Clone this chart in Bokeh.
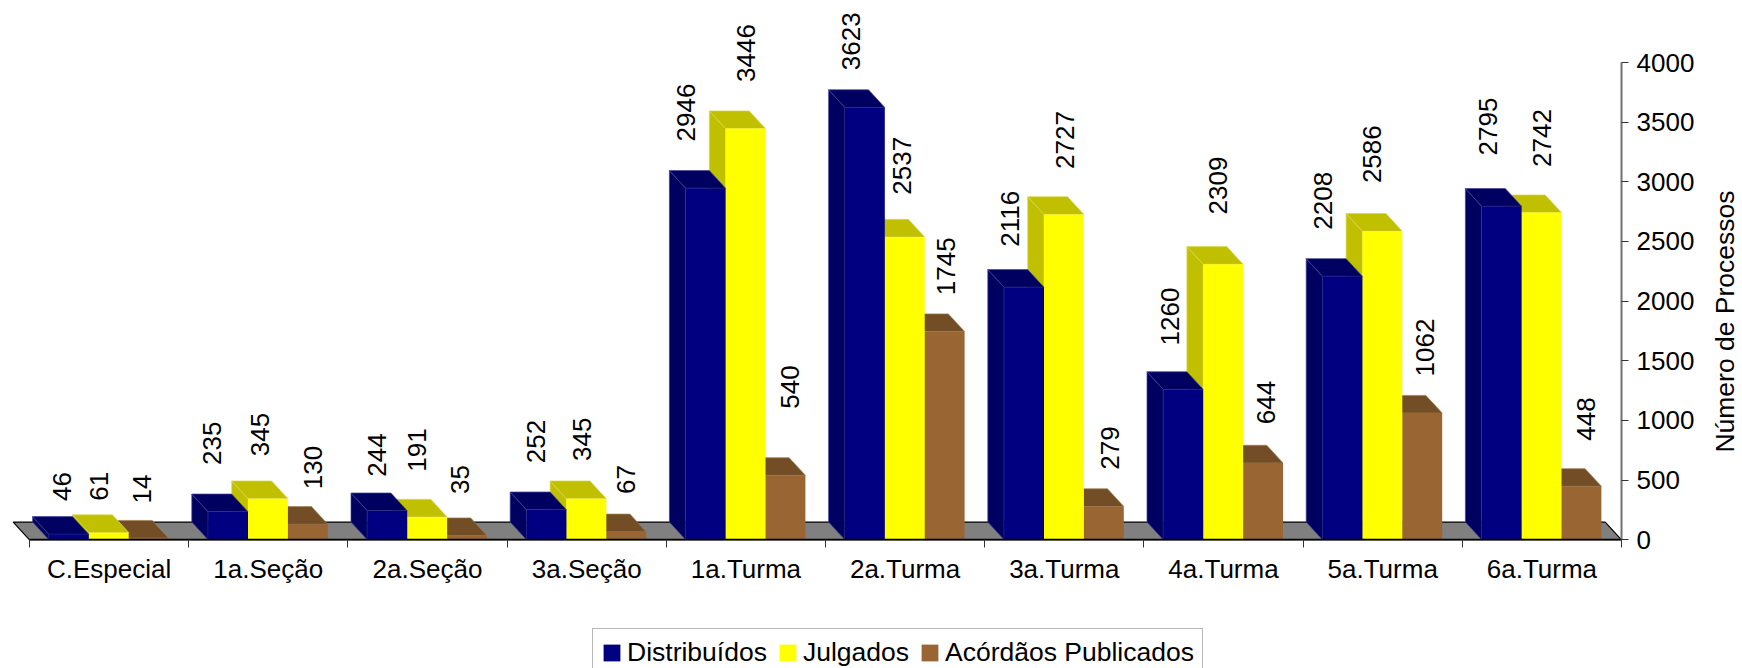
import math
from bokeh.core.properties import value
from bokeh.embed import file_html
from bokeh.models import ColumnDataSource, FixedTicker, Label, Legend, LegendItem, Range1d
from bokeh.plotting import figure
from bokeh.resources import INLINE

categories = ["C.Especial", "1a.Seção", "2a.Seção", "3a.Seção", "1a.Turma",
              "2a.Turma", "3a.Turma", "4a.Turma", "5a.Turma", "6a.Turma"]
distribuidos = [46, 235, 244, 252, 2946, 3623, 2116, 1260, 2208, 2795]
julgados = [61, 345, 191, 345, 3446, 2537, 2727, 2309, 2586, 2742]
acordaos = [14, 130, 35, 67, 540, 1745, 279, 644, 1062, 448]
y_ticks = [0, 500, 1000, 1500, 2000, 2500, 3000, 3500, 4000]

# Layout constants (page pixels of the reference)
W, H = 1742, 668
PX_X = 159.2          # one category
PX_Y = 477.3 / 4000   # one unit of value
PAGE_X0, PAGE_Y0 = 29.0, 539.3
FONT = "Liberation Sans"
FS = "26px"

# Manually placed data labels of the reference: page pixel centres
lab_x_d = [62.5, 212, 377, 536.7, 686.3, 851.7, 1010.7, 1170, 1323.3, 1488.3]
lab_y_d = [486, 442.8, 454.5, 441, 112, 40.8, 218.3, 316, 200.3, 126]
lab_x_j = [99, 260, 417.5, 582.7, 746.3, 902, 1065, 1218.3, 1372.3, 1542.3]
lab_y_j = [485.7, 434, 449.5, 438.7, 52.5, 165.3, 139.5, 185, 153.7, 137.5]
lab_x_a = [142, 313, 460, 626.7, 790.7, 946.3, 1110, 1266, 1425, 1586]
lab_y_a = [488.5, 467, 479, 479, 386.6, 265.8, 447.5, 402, 347, 418.5]


def dx(px):
    return (px - PAGE_X0) / PX_X


def dy(py):
    return (PAGE_Y0 - py) / PX_Y


DEPTH_X = 16.3 / PX_X
DEPTH_Y = 17.7 / PX_Y
BAR_OFF = 19.4 / PX_X
BAR_W = 39.9 / PX_X

p = figure(width=W, height=H, output_backend="svg", toolbar_location=None,
           x_range=Range1d(dx(0), dx(W)), y_range=Range1d(dy(H), dy(0)),
           x_axis_location="below", y_axis_location="right",
           min_border_left=0, min_border_top=0, min_border_right=0, min_border_bottom=0,
           outline_line_color=None, background_fill_color="white", border_fill_color="white")
p.grid.visible = False

# floor
p.patch([0, 10, 10 - DEPTH_X, -DEPTH_X], [0, 0, DEPTH_Y, DEPTH_Y],
        fill_color="#808080", line_color="black", line_width=1.2)

series = [
    (2, acordaos, "#996633", "#734D26", "#734D26", "#A08050"),
    (1, julgados, "#FFFF00", "#C0C000", "#C0C000", "#DADA50"),
    (0, distribuidos, "#000080", "#000060", "#000060", "#40409A"),
]
fronts = {}
for k, vals, front, top, side, edge in series:
    x0s = [i + BAR_OFF + k * BAR_W for i in range(len(vals))]
    x1s = [x + BAR_W for x in x0s]
    p.patches([[x, x, x - DEPTH_X, x - DEPTH_X] for x in x0s],
              [[0, v, v + DEPTH_Y, DEPTH_Y] for v in vals],
              fill_color=side, line_color=edge, line_width=0.7)
    p.patches([[x0, x1, x1 - DEPTH_X, x0 - DEPTH_X] for x0, x1 in zip(x0s, x1s)],
              [[v, v, v + DEPTH_Y, v + DEPTH_Y] for v in vals],
              fill_color=top, line_color=edge, line_width=0.7)
    fronts[k] = p.quad(left=x0s, right=x1s, bottom=0, top=vals, fill_color=front, line_color=None)

# data labels
for vals, xs, ys in [(distribuidos, lab_x_d, lab_y_d), (julgados, lab_x_j, lab_y_j), (acordaos, lab_x_a, lab_y_a)]:
    src = ColumnDataSource(dict(x=[dx(v - 1) for v in xs], y=[dy(v) for v in ys], t=[str(v) for v in vals]))
    p.text("x", "y", text="t", source=src, angle=math.pi / 2, text_align="center", text_baseline="middle",
           text_font=value(FONT), text_font_size=FS, text_color="black")

# x axis
xa = p.xaxis[0]
xa.fixed_location = 0
xa.ticker = FixedTicker(ticks=[i + 0.5 for i in range(10)], minor_ticks=list(range(11)))
xa.major_label_overrides = {i + 0.5: c for i, c in enumerate(categories)}
xa.bounds = (0, 10)
xa.major_tick_in = 0
xa.major_tick_out = 0
xa.minor_tick_in = 0
xa.minor_tick_out = 8
xa.minor_tick_line_color = "#333333"
xa.minor_tick_line_width = 1
xa.axis_line_color = "black"
xa.axis_line_width = 1.5
xa.major_label_standoff = 6
xa.major_label_text_font = FONT
xa.major_label_text_font_size = FS
xa.major_label_text_color = "black"
xa.major_label_orientation = "horizontal"

# y axis
ya = p.yaxis[0]
ya.fixed_location = 10
ya.ticker = FixedTicker(ticks=y_ticks)
ya.bounds = (0, 4000)
ya.major_tick_in = 0
ya.major_tick_out = 7
ya.minor_tick_line_color = None
ya.major_tick_line_color = "#333333"
ya.major_tick_line_width = 1
ya.axis_line_color = "#707070"
ya.axis_line_width = 2
ya.major_label_standoff = 8
ya.major_label_text_font = FONT
ya.major_label_text_font_size = FS
ya.major_label_text_color = "black"
ya.major_label_orientation = "horizontal"

p.add_layout(Label(x=dx(1724), y=dy(321), text="Número de Processos", angle=math.pi / 2,
                   text_align="center", text_baseline="middle",
                   text_font=FONT, text_font_size="26.5px", text_color="black"))

legend = Legend(items=[LegendItem(label="Distribuídos", renderers=[fronts[0]]),
                       LegendItem(label="Julgados", renderers=[fronts[1]]),
                       LegendItem(label="Acórdãos Publicados", renderers=[fronts[2]])],
                orientation="horizontal", location=(592, -9), margin=0, padding=8,
                spacing=10, glyph_width=21, glyph_height=21, label_standoff=5,
                label_text_font=FONT, label_text_font_size="26.5px", label_text_color="black",
                border_line_color="#707070", border_line_width=1.5,
                background_fill_color="white", background_fill_alpha=1)
p.add_layout(legend)

open("out.html", "w").write(file_html(p, INLINE))
